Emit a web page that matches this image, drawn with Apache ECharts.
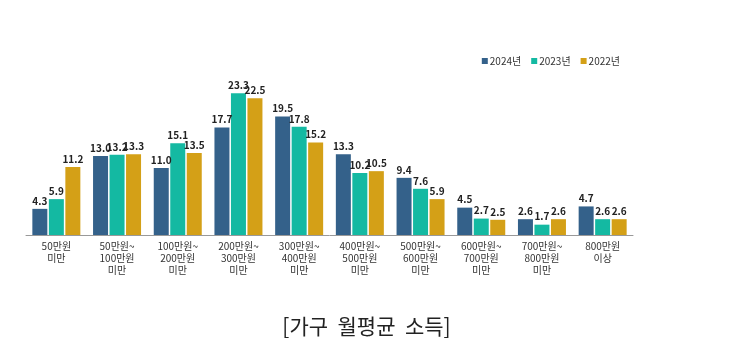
<!DOCTYPE html>
<html><head><meta charset="utf-8">
<script src="https://cdn.jsdelivr.net/npm/echarts@6/dist/echarts.min.js"></script>
<style>html,body{margin:0;padding:0;background:#fff}#c{width:733px;height:360px}</style>
</head><body><div id="c"></div>
<script>
const categories = ['50만원\n미만','50만원~\n100만원\n미만','100만원~\n200만원\n미만','200만원~\n300만원\n미만','300만원~\n400만원\n미만','400만원~\n500만원\n미만','500만원~\n600만원\n미만','600만원~\n700만원\n미만','700만원~\n800만원\n미만','800만원\n이상'];
const seriesNames = ['2024년','2023년','2022년'];
const v2024 = [4.3,13.0,11.0,17.7,19.5,13.3,9.4,4.5,2.6,4.7];
const v2023 = [5.9,13.2,15.1,23.3,17.8,10.2,7.6,2.7,1.7,2.6];
const v2022 = [11.2,13.3,13.5,22.5,15.2,10.5,5.9,2.5,2.6,2.6];
const colors = ['#34618a','#14b9a2','#d4a017'];
const font = '"Noto Sans CJK KR", sans-serif';
const chart = echarts.init(document.getElementById('c'));
const mk = (name, data, i) => ({
  name, type: 'bar', data, barWidth: 15, barGap: '10%',
  itemStyle: {color: colors[i]},
  label: {show: true, position: 'top', distance: 3, fontSize: 10, fontWeight: 'bold', color: '#222', fontFamily: font,
    formatter: p => p.value.toFixed(1)}
});
chart.setOption({
  animation: false,
  textStyle: {fontFamily: font},
  title: {text: '[가구  월평균  소득]', left: 'center', top: 311, textStyle: {fontSize: 21, fontWeight: 'normal', color: '#222', fontFamily: font}},
  legend: {data: seriesNames, right: 108, top: 51, itemWidth: 6, itemHeight: 6, itemGap: 10,
    icon: 'rect', textStyle: {fontSize: 10, color: '#333', padding: [0,0,0,-3]}},
  grid: {left: 26, right: 100, top: 83, bottom: 125},
  xAxis: {type: 'category', data: categories,
    axisLine: {lineStyle: {color: '#999'}},
    axisTick: {inside: true, length: 4, lineStyle: {color: '#999'}},
    axisLabel: {fontSize: 10, color: '#333', lineHeight: 12, margin: 5, interval: 0}},
  yAxis: {type: 'value', min: 0, max: 25, show: false, splitLine: {show: false}},
  series: [mk(seriesNames[0], v2024, 0), mk(seriesNames[1], v2023, 1), mk(seriesNames[2], v2022, 2)]
});
</script></body></html>
